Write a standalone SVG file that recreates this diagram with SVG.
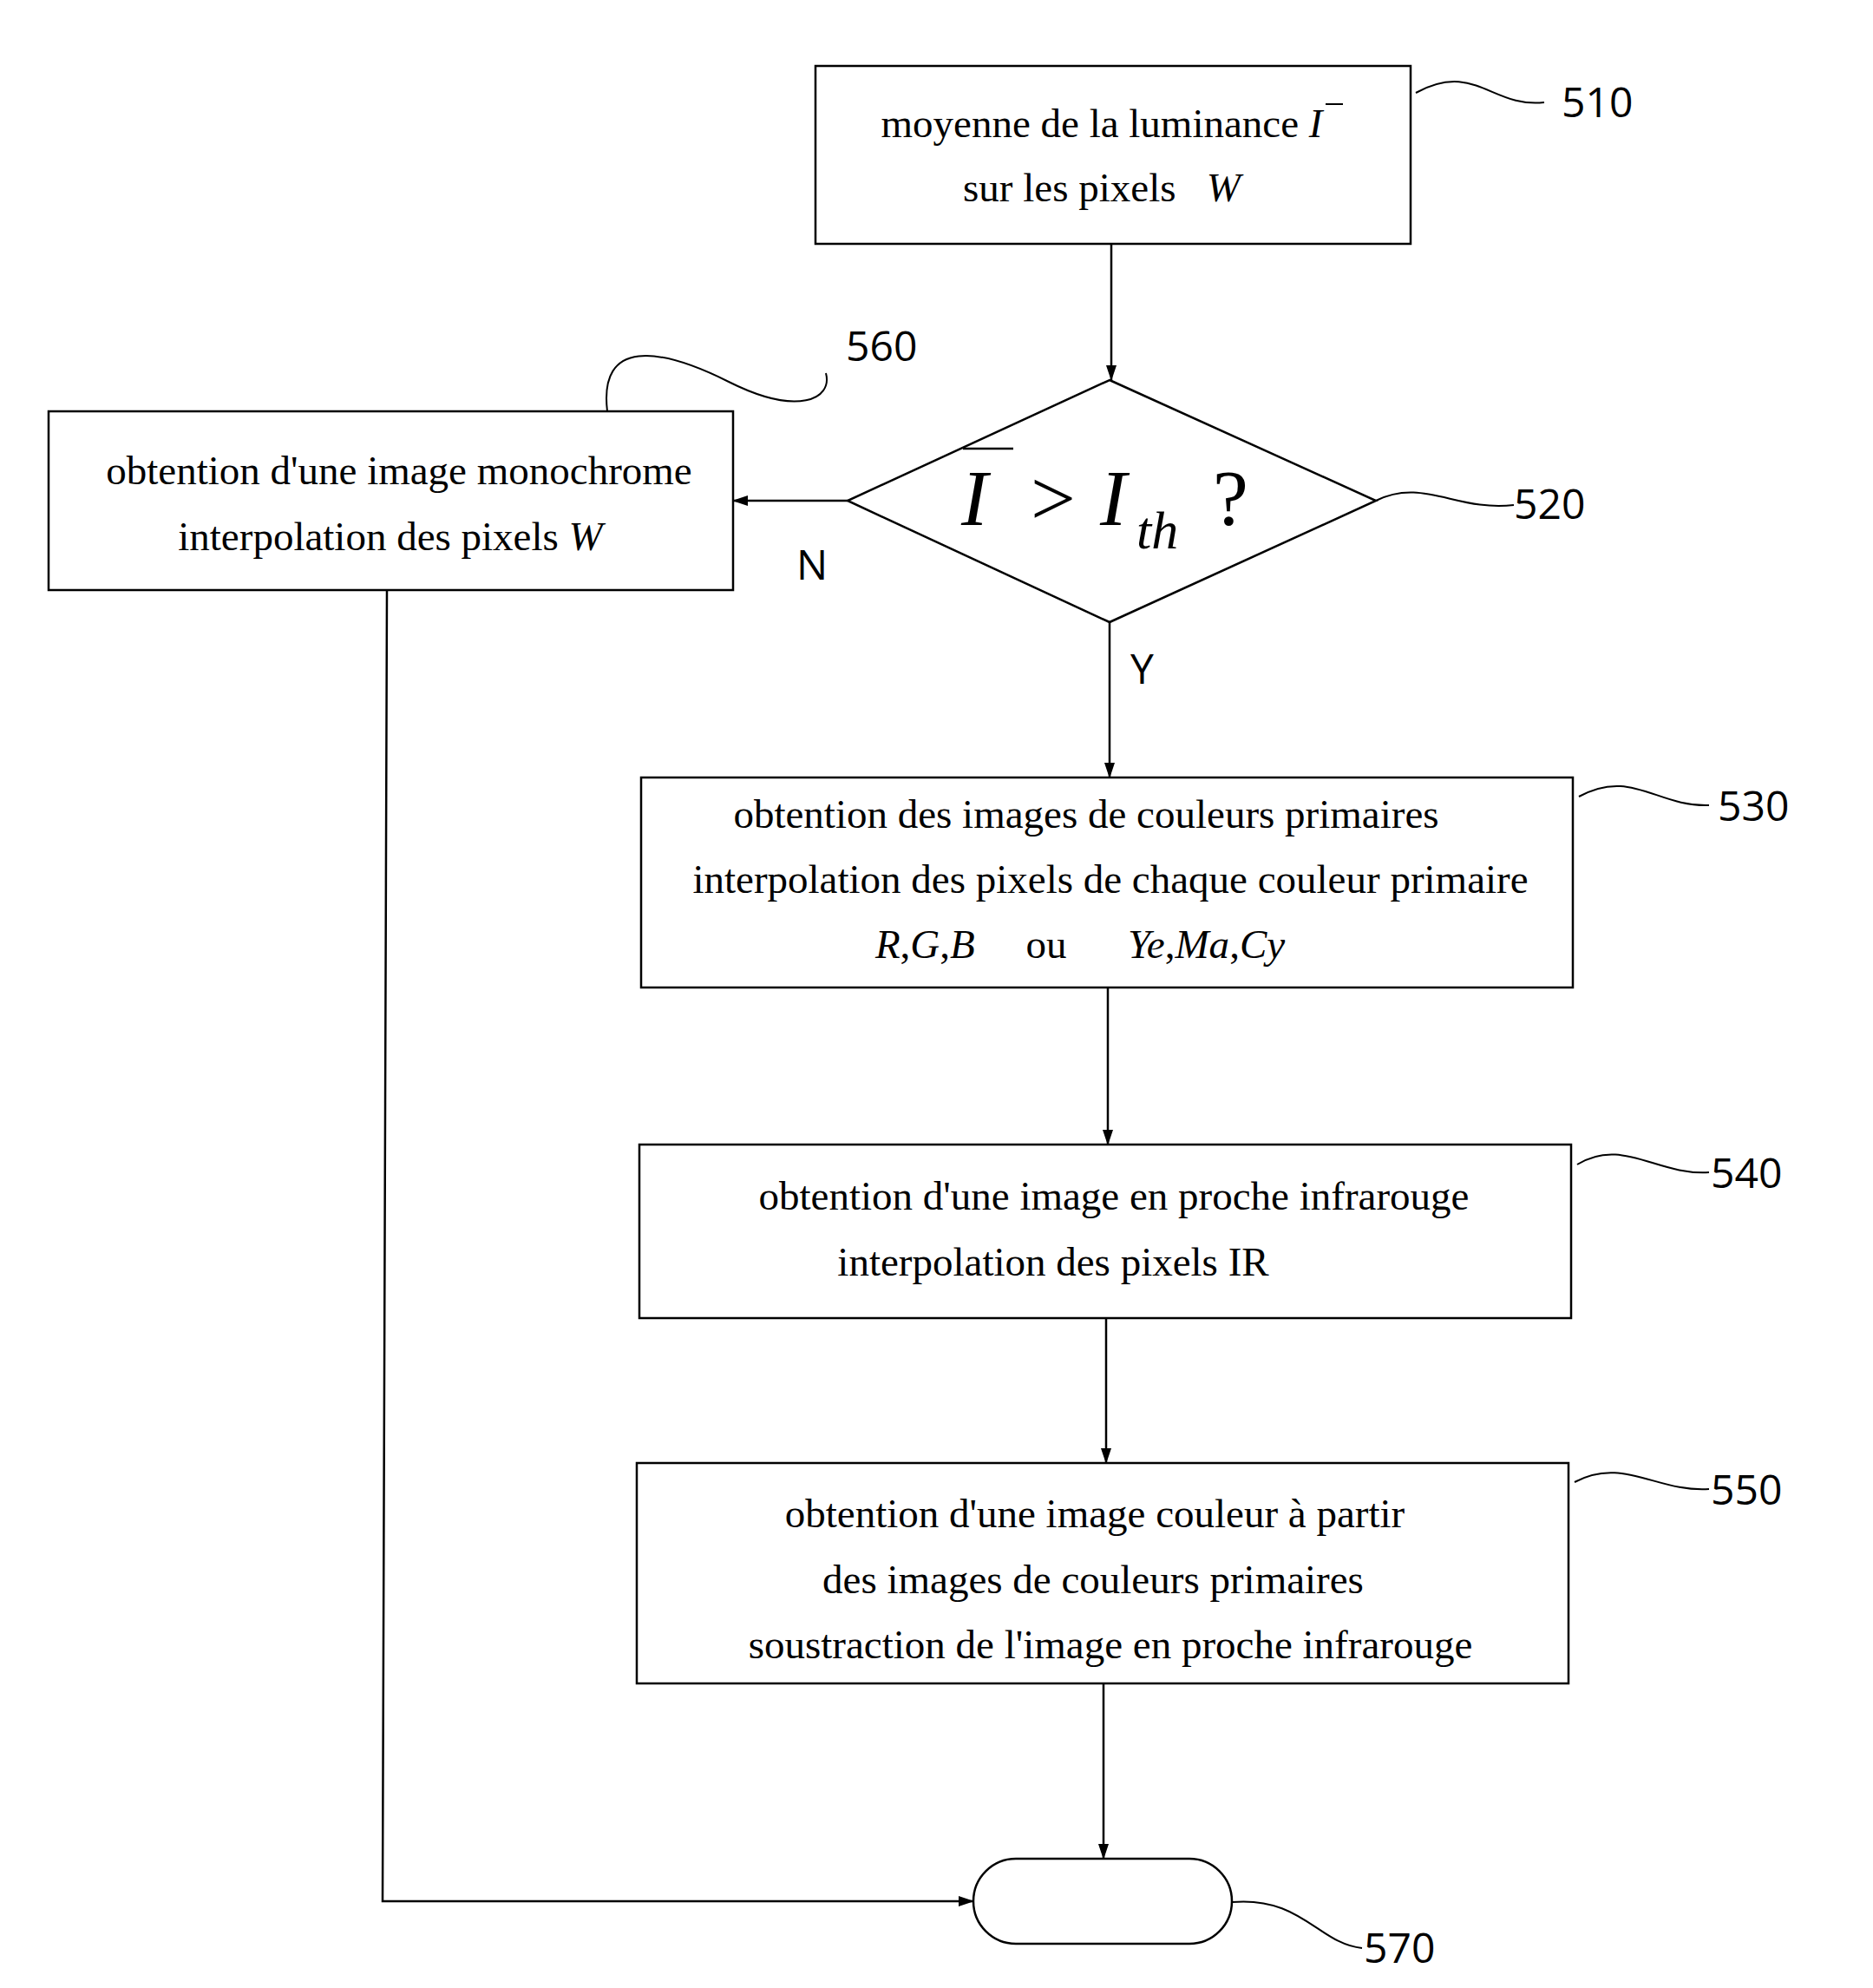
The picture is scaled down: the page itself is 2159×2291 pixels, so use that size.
<svg xmlns="http://www.w3.org/2000/svg" width="2159" height="2291" viewBox="0 0 2159 2291">
<defs>
<marker id="ah" markerWidth="18" markerHeight="12" refX="17" refY="6" orient="auto" markerUnits="userSpaceOnUse"><path d="M0,0 L18,6 L0,12 Z" fill="#000"/></marker>
<style>
.b{fill:#fff;stroke:#000;stroke-width:2.5}
.t{font-family:"Liberation Serif",serif;font-size:47px;text-anchor:middle;fill:#000}
.i{font-style:italic}
.n{font-family:"Open Sans","Liberation Sans",sans-serif;font-size:48px;fill:#000}
.c{fill:none;stroke:#000;stroke-width:2.5}
.l{fill:none;stroke:#000;stroke-width:2}
</style>
</defs>
<rect width="2159" height="2291" fill="#fff"/>
<g id="connectors">
<line class="c" x1="1281" y1="281" x2="1281" y2="438" marker-end="url(#ah)"/>
<line class="c" x1="977" y1="577" x2="845" y2="577" marker-end="url(#ah)"/>
<line class="c" x1="1279" y1="717" x2="1279" y2="896" marker-end="url(#ah)"/>
<line class="c" x1="1277" y1="1138" x2="1277" y2="1319" marker-end="url(#ah)"/>
<line class="c" x1="1275" y1="1519" x2="1275" y2="1686" marker-end="url(#ah)"/>
<line class="c" x1="1272" y1="1940" x2="1272" y2="2142" marker-end="url(#ah)"/>
<polyline class="c" points="446,680 441,2191 1122,2191" marker-end="url(#ah)"/>
<text class="n" x="918" y="668">N</text>
<text class="n" x="1303" y="788">Y</text>
</g>
<g id="n510">
<rect class="b" x="940" y="76" width="686" height="205"/>
<text class="t" x="1270" y="158">moyenne de la luminance <tspan class="i">I</tspan></text>
<line x1="1528" y1="120" x2="1548" y2="120" stroke="#000" stroke-width="2"/>
<text class="t" x="1270" y="232" xml:space="preserve">sur les pixels   <tspan class="i">W</tspan></text>
<path class="l" d="M1632,107 C1700,70 1720,125 1780,118"/>
<text class="n" x="1800" y="135">510</text>
</g>
<g id="n520">
<polygon class="b" points="1279,438 1586,577 1279,717 977,577"/>
<text font-family="Liberation Serif,serif" font-size="92" font-style="italic" x="1108" y="605">I</text>
<line x1="1110" y1="517" x2="1168" y2="517" stroke="#000" stroke-width="2.5"/>
<text font-family="Liberation Serif,serif" font-size="92" x="1188" y="605">&gt;</text>
<text font-family="Liberation Serif,serif" font-size="92" font-style="italic" x="1268" y="605">I</text>
<text font-family="Liberation Serif,serif" font-size="62" font-style="italic" x="1310" y="632">th</text>
<text font-family="Liberation Serif,serif" font-size="92" x="1398" y="605">?</text>
<path class="l" d="M1586,577 C1640,550 1680,590 1745,582"/>
<text class="n" x="1745" y="598">520</text>
</g>
<g id="n560">
<rect class="b" x="56" y="474" width="789" height="206"/>
<text class="t" x="460" y="558">obtention d'une image monochrome</text>
<text class="t" x="450" y="634">interpolation des pixels <tspan class="i">W</tspan></text>
<path class="l" d="M700,474 C690,390 760,400 840,440 C920,480 960,460 952,430"/>
<text class="n" x="975" y="416">560</text>
</g>
<g id="n530">
<rect class="b" x="739" y="896" width="1074" height="242"/>
<text class="t" x="1252" y="954">obtention des images de couleurs primaires</text>
<text class="t" x="1280" y="1029">interpolation des pixels de chaque couleur primaire</text>
<text class="t" x="1245" y="1104" xml:space="preserve"><tspan class="i">R</tspan>,<tspan class="i">G</tspan>,<tspan class="i">B</tspan>     ou      <tspan class="i">Ye</tspan>,<tspan class="i">Ma</tspan>,<tspan class="i">Cy</tspan></text>
<path class="l" d="M1820,918 C1880,885 1910,930 1970,928"/>
<text class="n" x="1980" y="946">530</text>
</g>
<g id="n540">
<rect class="b" x="737" y="1319" width="1074" height="200"/>
<text class="t" x="1284" y="1394">obtention d'une image en proche infrarouge</text>
<text class="t" x="1214" y="1470">interpolation des pixels IR</text>
<path class="l" d="M1818,1342 C1870,1310 1910,1355 1970,1351"/>
<text class="n" x="1972" y="1369">540</text>
</g>
<g id="n550">
<rect class="b" x="734" y="1686" width="1074" height="254"/>
<text class="t" x="1262" y="1760">obtention d'une image couleur à partir</text>
<text class="t" x="1260" y="1836">des images de couleurs primaires</text>
<text class="t" x="1280" y="1911">soustraction de l'image en proche infrarouge</text>
<path class="l" d="M1815,1708 C1870,1678 1910,1720 1970,1716"/>
<text class="n" x="1972" y="1734">550</text>
</g>
<g id="n570">
<rect class="b" x="1122" y="2142" width="298" height="98" rx="49"/>
<path class="l" d="M1420,2192 C1500,2185 1520,2240 1570,2245"/>
<text class="n" x="1572" y="2262">570</text>
</g>
</svg>
